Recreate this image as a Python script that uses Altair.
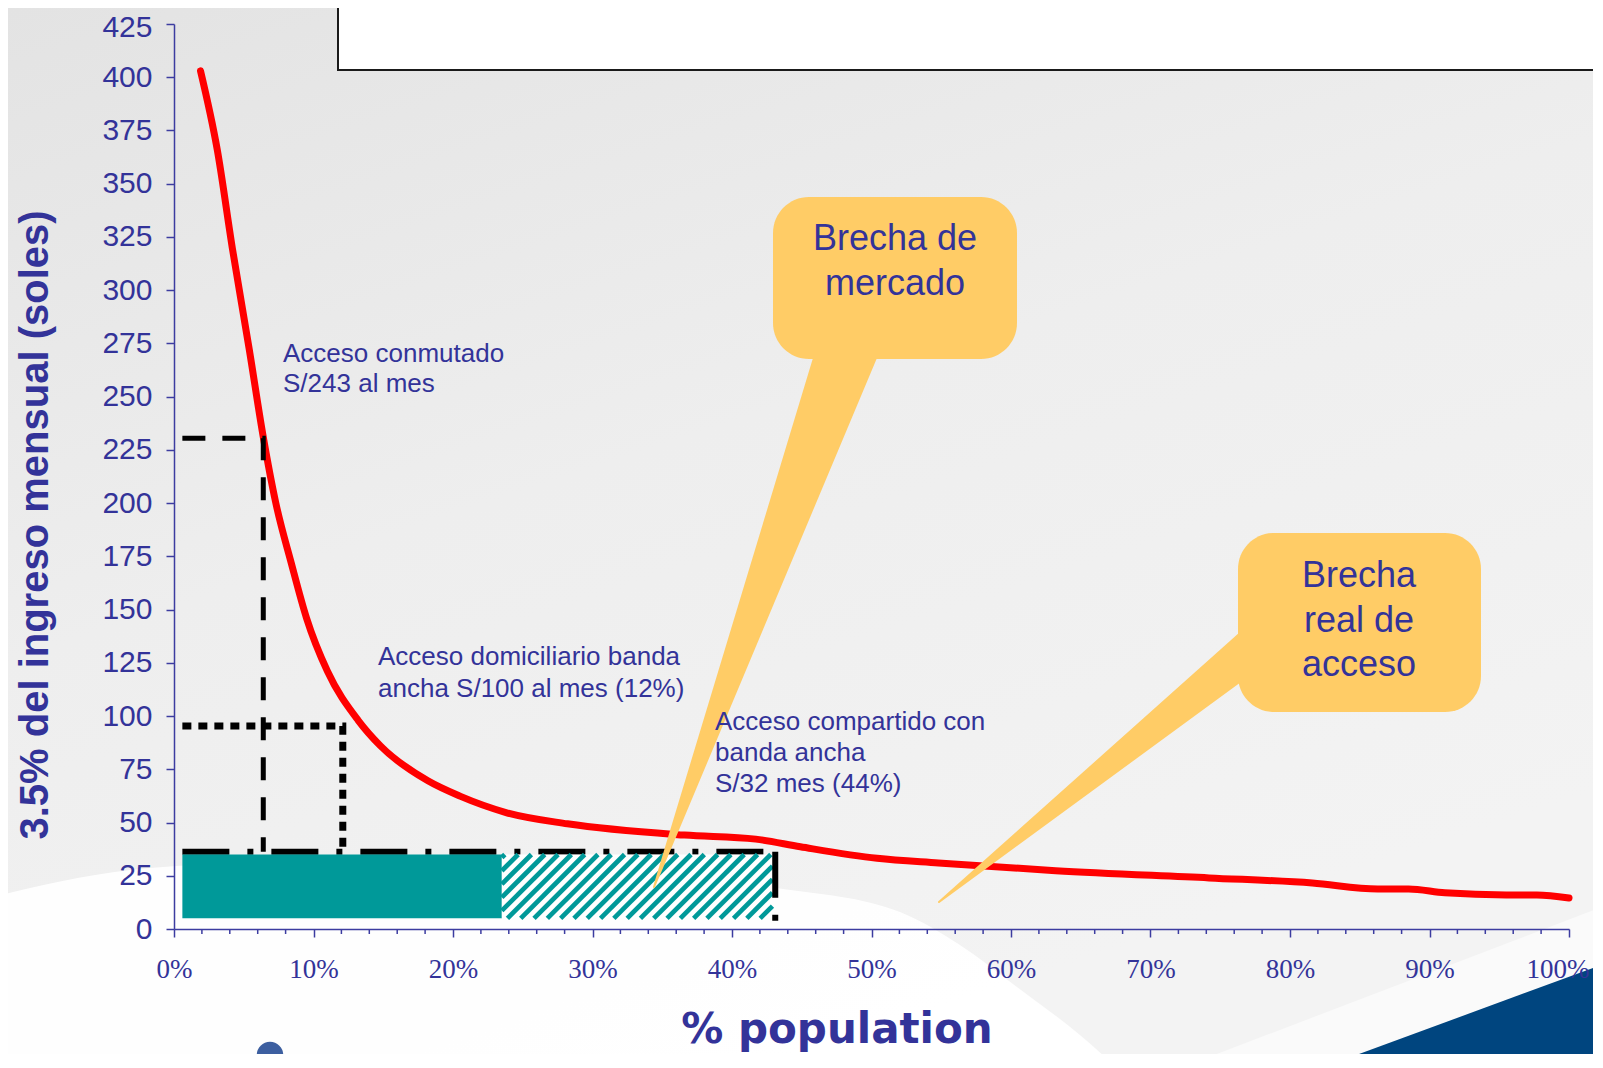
import altair as alt
import pandas as pd
import numpy as np

# ---------------- data ----------------
pct_population = [1.9, 3.1, 4.2, 5.4, 6.4, 7.3, 8.4, 9.5, 11.0, 13.2, 14.8, 18.2, 20.5, 23.8,
                  28.2, 36.6, 41.7, 44.9, 50.4, 54.8, 63.2, 74.2, 81.6, 86.3, 88.5, 91.1,
                  95.5, 97.7, 100.0]
monthly_cost = [403, 366, 319, 272, 231, 200, 172, 146, 121, 98, 86, 69.6, 62.4, 54.7,
                49.4, 44.1, 42.2, 38.6, 33.2, 31.0, 27.4, 24.0, 21.6, 18.8, 18.8, 17.0,
                16.0, 16.0, 14.6]

y_ticks = list(range(0, 426, 25))
x_ticks = list(range(0, 101, 10))
x_minor = [v for v in range(0, 101, 2) if v % 10 != 0]

# access levels (dashed guides)
dial_cost, dial_pct = 230.5, 6.4          # Acceso conmutado
bb_cost, bb_pct = 95.3, 12.1              # Acceso domiciliario banda ancha
shared_cost, shared_pct = 36.3, 43.1      # Acceso compartido

# bars: solid (domiciliario) + hatched (compartido)
bar_start = [0.6, 23.5]
bar_end = [23.5, 42.9]
bar_low = [5.0, 5.0]
bar_high = [35.0, 35.0]

ann_lines = ["Acceso conmutado", "S/243 al mes",
             "Acceso domiciliario banda", "ancha S/100 al mes (12%)",
             "Acceso compartido con", "banda ancha", "S/32 mes (44%)"]
callout1_lines = ["Brecha de", "mercado"]
callout2_lines = ["Brecha", "real de", "acceso"]

# ---------------- layout ----------------
W, H = 1395, 905
PAD_L, PAD_T = 166, 16
TOTAL_W, TOTAL_H = 1585, 1046
OX, OY = 8 + PAD_L, 8 + PAD_T

def dx(px):
    return (px - OX) / W * 100.0

def dy(py):
    return (OY + H - py) / H * 425.0

BLUE = "#333399"
AXC = "#3c3ca0"
TEAL = "#009999"
GOLD = "#FFCC66"
FONT = "Liberation Sans"

XS = alt.Scale(domain=[0, 100], nice=False, zero=False)
YS = alt.Scale(domain=[0, 425], nice=False, zero=False)
XA = alt.Axis(values=x_ticks, labelExpr="datum.value + '%'", tickSize=8, tickWidth=1.5,
              tickColor=AXC, domainColor=AXC, domainWidth=1.5, labelColor=BLUE,
              labelFont="Liberation Serif", labelFontSize=27, labelPadding=19,
              labelAlign={"condition": {"test": "datum.value == 100", "value": "right"}, "value": "center"},
              labelOffset={"condition": {"test": "datum.value == 100", "value": 20}, "value": 0},
              labelFlush=False, labelOverlap=False, labelBound=False, grid=False, title=None, zindex=1)
YA = alt.Axis(values=y_ticks, tickSize=8, tickWidth=1.5, tickColor=AXC, domainColor=AXC,
              domainWidth=1.5, labelColor=BLUE, labelFont=FONT, labelFontSize=30,
              labelOffset={"condition": {"test": "datum.value == 425", "value": 3}, "value": 0},
              labelPadding=14, labelFlush=False, labelBound=False, grid=False, title=None, zindex=1)

def X(f):
    return alt.X(f, type="quantitative", scale=XS, axis=XA)

def Y(f):
    return alt.Y(f, type="quantitative", scale=YS, axis=YA)

one = pd.DataFrame({"a": [0]})

# background gradient
bg = alt.Chart(one).mark_rect(
    color=alt.LinearGradient(gradient="linear",
                             stops=[alt.GradientStop(color="#e3e3e3", offset=0),
                                    alt.GradientStop(color="#eeeeee", offset=0.5),
                                    alt.GradientStop(color="#f3f3f3", offset=1)],
                             x1=0, x2=0.5, y1=0, y2=1)
).encode(x=alt.value(-PAD_L), x2=alt.value(TOTAL_W - PAD_L),
         y=alt.value(-PAD_T), y2=alt.value(TOTAL_H - PAD_T))

# white swoosh at the bottom
sw_px = [-20, 150, 350, 550, 777, 900, 960, 1017, 1080, 1140]
sw_py = [900, 868, 860, 866, 888, 912, 945, 987, 1035, 1090]
swoosh_df = pd.DataFrame({"x": [dx(v) for v in sw_px], "y": [dy(v) for v in sw_py],
                          "y2": [dy(1120)] * len(sw_px)})
swoosh = alt.Chart(swoosh_df).mark_area(color="white", opacity=0.93, interpolate="monotone").encode(
    x=X("x"), y=Y("y"), y2="y2")

# blue corner
bl_df = pd.DataFrame({"x": [dx(1321), dx(1620)], "y": [dy(1068), dy(958)],
                      "y2": [dy(1120), dy(1120)]})
band_df = pd.DataFrame({"x": [dx(1180), dx(1620)], "y": [dy(1068), dy(900)],
                        "y2": [dy(1120), dy(1120)]})
band = alt.Chart(band_df).mark_area(color="white", opacity=0.55).encode(x=X("x"), y=Y("y"), y2="y2")
blue = alt.Chart(bl_df).mark_area(color="#00457f").encode(x=X("x"), y=Y("y"), y2="y2")

# logo ball (partly visible)
ball = alt.Chart(one).mark_circle(color="#3d5fa0", opacity=1, size=700).encode(
    x=alt.value(270 - OX), y=alt.value(1055 - OY))

# top white box
topbox = alt.Chart(one).mark_rect(fill="white", stroke="#1a1a1a", strokeWidth=2).encode(
    x=alt.value(338 - OX), x2=alt.value(TOTAL_W - PAD_L + 30),
    y=alt.value(-PAD_T - 30), y2=alt.value(70 - OY))

# minor ticks
minor = alt.Chart(pd.DataFrame({"t": x_minor})).mark_rule(color=AXC, strokeWidth=1.5).encode(
    x=X("t"), y=alt.value(H), y2=alt.value(H + 5))

# red curve
curve = alt.Chart(pd.DataFrame({"x": pct_population, "y": monthly_cost})).mark_line(
    color="#ff0000", strokeWidth=7, strokeCap="round", strokeJoin="round", interpolate="monotone"
).encode(x=X("x"), y=Y("y"))

# guide lines
def path(xs, ys):
    return pd.DataFrame({"x": xs, "y": ys, "o": list(range(len(xs)))})

dash1 = alt.Chart(path([0.6, dial_pct, dial_pct], [dial_cost, dial_cost, shared_cost])).mark_line(
    color="black", strokeWidth=5, strokeDash=[23, 17], strokeCap="butt").encode(
    x=X("x"), y=Y("y"), order="o:Q")
dot1 = alt.Chart(path([0.6, bb_pct, bb_pct], [bb_cost, bb_cost, shared_cost])).mark_line(
    color="black", strokeWidth=7, strokeDash=[9, 7], strokeCap="butt").encode(
    x=X("x"), y=Y("y"), order="o:Q")
dashdot_h = alt.Chart(pd.DataFrame({"x": [0.6], "x2": [shared_pct], "y": [shared_cost]})).mark_rule(
    color="black", strokeWidth=6, strokeDash=[47, 18, 6, 18], strokeCap="butt").encode(
    x=X("x"), x2="x2", y=Y("y"))
dashdot_v = alt.Chart(pd.DataFrame({"x": [shared_pct], "y": [shared_cost], "y2": [2.5]})).mark_rule(
    color="black", strokeWidth=6, strokeDash=[46, 17, 6, 17], strokeCap="butt").encode(
    x=X("x"), y=Y("y"), y2="y2")

# bars
bars_df = pd.DataFrame({"x": bar_start, "x2": bar_end, "y": bar_low, "y2": bar_high,
                        "kind": ["solid", "hatched"]})
bar_solid = alt.Chart(bars_df[bars_df.kind == "solid"]).mark_rect(color=TEAL).encode(
    x=X("x"), x2="x2", y=Y("y"), y2="y2")
bar_white = alt.Chart(bars_df[bars_df.kind == "hatched"]).mark_rect(color="white").encode(
    x=X("x"), x2="x2", y=Y("y"), y2="y2")

# hatch stripes ("/") inside the hatched bar
hx0 = bar_start[1] / 100 * W
hx1 = bar_end[1] / 100 * W
hyt = H - bar_high[1] / 425 * H
hyb = H - bar_low[1] / 425 * H
step = 13.3
rows = []
c = hx0 + hyt + 3
while c < hx1 + hyb:
    lo = max(hx0, c - hyb)
    hi = min(hx1, c - hyt)
    if hi - lo > 0.5:
        rows.append({"x": lo / W * 100, "y": (H - (c - lo)) / H * 425,
                     "x2": hi / W * 100, "y2": (H - (c - hi)) / H * 425})
    c += step
hatch = alt.Chart(pd.DataFrame(rows)).mark_rule(color=TEAL, strokeWidth=4.7, strokeCap="butt").encode(
    x=X("x"), y=Y("y"), x2="x2", y2="y2")

# callout pointers (trails)
def wedge(e, t, w_edge):
    L = 0.15
    pts = [(e[0] + L * (e[0] - t[0]), e[1] + L * (e[1] - t[1]), w_edge * (1 + L)),
           (e[0], e[1], w_edge), (t[0], t[1], 2.0)]
    return pd.DataFrame({"x": [dx(p[0]) for p in pts], "y": [dy(p[1]) for p in pts],
                         "w": [p[2] for p in pts], "o": [0, 1, 2]})

w1 = wedge((844, 359), (654, 887), 60)
w2 = wedge((1238, 660), (939, 902), 39)
wedge1 = alt.Chart(w1).mark_trail(color=GOLD).encode(
    x=X("x"), y=Y("y"), size=alt.Size("w:Q", scale=None, legend=None), order="o:Q")
wedge2 = alt.Chart(w2).mark_trail(color=GOLD).encode(
    x=X("x"), y=Y("y"), size=alt.Size("w:Q", scale=None, legend=None), order="o:Q")

boxes_df = pd.DataFrame({"x": [dx(773), dx(1238)], "x2": [dx(1017), dx(1481)],
                         "y": [dy(359), dy(712)], "y2": [dy(197), dy(533)]})
boxes = alt.Chart(boxes_df).mark_rect(color=GOLD, cornerRadius=36).encode(
    x=X("x"), x2="x2", y=Y("y"), y2="y2")

cl_df = pd.DataFrame({"text": callout1_lines + callout2_lines,
                      "x": [dx(895)] * 2 + [dx(1359)] * 3,
                      "y": [dy(250), dy(295), dy(587), dy(632), dy(676)]})
callout_text = alt.Chart(cl_df).mark_text(font=FONT, fontSize=36, color=BLUE, align="center",
                                          baseline="alphabetic").encode(
    x=X("x"), y=Y("y"), text="text:N")

ann_px = [283, 283, 378, 378, 715, 715, 715]
ann_py = [362, 392, 665, 697, 730, 761, 792]
ann_df = pd.DataFrame({"text": ann_lines, "x": [dx(v) for v in ann_px], "y": [dy(v) for v in ann_py]})
ann = alt.Chart(ann_df).mark_text(font=FONT, fontSize=26, color=BLUE, align="left",
                                  baseline="alphabetic").encode(
    x=X("x"), y=Y("y"), text="text:N")

ytitle = alt.Chart(one).mark_text(text="3.5% del ingreso mensual (soles)", font=FONT, fontSize=40,
                                  fontWeight="bold", color=BLUE, angle=270, align="center",
                                  baseline="middle").encode(
    x=alt.value(36 - OX), y=alt.value(525 - OY))
xtitle = alt.Chart(one).mark_text(text="% population", font="DejaVu Sans", fontWeight="bold",
                                  fontSize=42, color=BLUE, align="center", baseline="alphabetic").encode(
    x=alt.value(837 - OX), y=alt.value(1043 - OY))

chart = alt.layer(
    bg, swoosh, band, blue, ball, topbox, minor, curve, dash1, dot1, dashdot_h,
    bar_solid, bar_white, hatch, dashdot_v, wedge1, wedge2, boxes, callout_text, ann,
    ytitle, xtitle
).properties(
    width=W, height=H,
    padding={"left": PAD_L, "top": PAD_T, "right": TOTAL_W - PAD_L - W, "bottom": TOTAL_H - PAD_T - H},
    autosize=alt.AutoSizeParams(type="none"),
).configure_view(stroke=None)

chart.save("out.html", embed_options={"renderer": "svg", "actions": False})
